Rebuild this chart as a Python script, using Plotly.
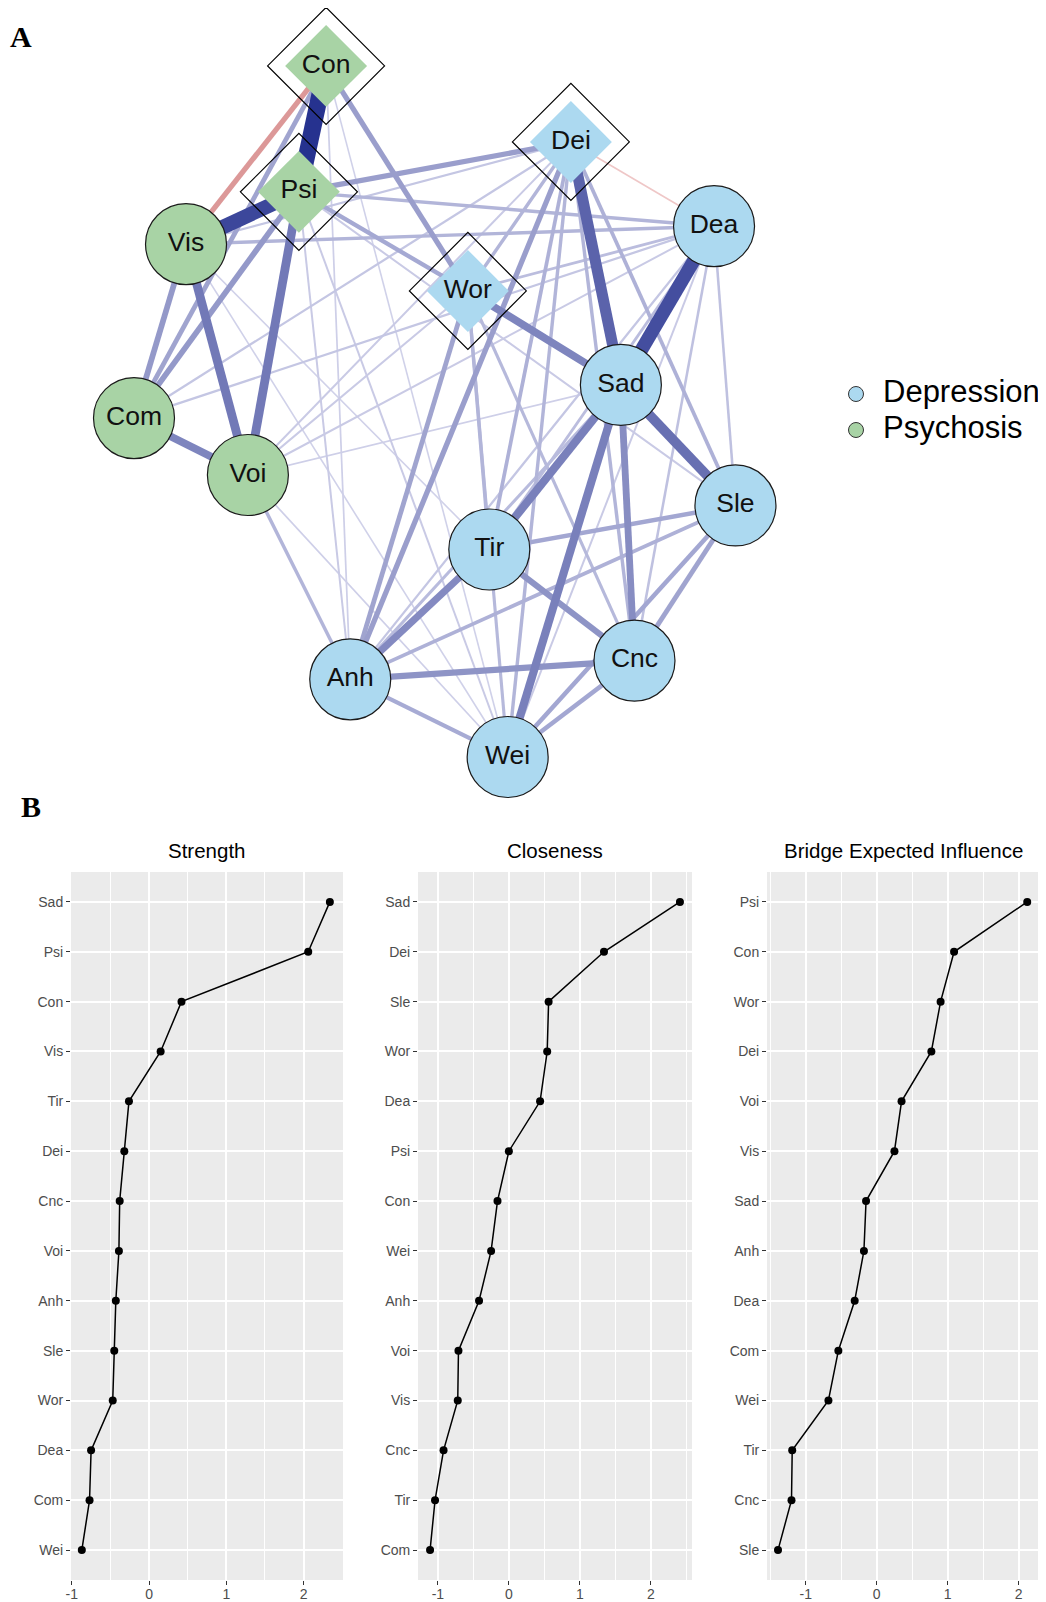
import plotly.graph_objects as go

PAGE_W, PAGE_H = 1046, 1602
OFF = 8  # default page margin around the plot div
W, H = PAGE_W - OFF, PAGE_H - OFF
FONT = "Liberation Sans, Arial, sans-serif"

# ---------------- Panel A: network data ----------------
nodes = ["Con", "Psi", "Vis", "Com", "Voi", "Wor", "Dei", "Dea", "Sad", "Sle", "Tir", "Cnc", "Anh", "Wei"]
node_x = [-0.335, -0.415, -0.747, -0.900, -0.565, 0.082, 0.385, 0.806, 0.532, 0.869, 0.145, 0.572, -0.264, 0.199]
node_y = [0.890, 0.567, 0.433, -0.013, -0.159, 0.313, 0.695, 0.479, 0.072, -0.237, -0.350, -0.635, -0.683, -0.882]
node_group = ["Psychosis"] * 5 + ["Depression"] * 9
bridge_nodes = ["Con", "Psi", "Wor", "Dei"]

edge_from = ["Con", "Vis", "Dea", "Dei", "Sad", "Vis", "Psi", "Sad", "Sad", "Com",
             "Wor", "Anh", "Sad", "Tir", "Anh", "Com", "Com", "Con", "Psi", "Con",
             "Con", "Anh", "Anh", "Sle", "Sle", "Cnc", "Tir", "Anh", "Psi", "Psi",
             "Vis", "Dei", "Dei", "Dei", "Dei", "Wor", "Wor", "Wor", "Wor", "Anh",
             "Anh", "Dea", "Dea", "Dea", "Dea", "Dea", "Dea", "Dea", "Dea", "Vis",
             "Com", "Voi", "Voi", "Voi", "Voi", "Con", "Psi", "Psi", "Con", "Vis",
             "Vis", "Psi", "Dea", "Anh"]
edge_to = ["Psi", "Psi", "Sad", "Sad", "Sle", "Voi", "Voi", "Tir", "Wei", "Voi",
           "Sad", "Tir", "Cnc", "Cnc", "Cnc", "Vis", "Psi", "Wor", "Dei", "Com",
           "Vis", "Dei", "Wor", "Cnc", "Wei", "Wei", "Sle", "Wei", "Wor", "Dea",
           "Dea", "Tir", "Wei", "Cnc", "Sle", "Tir", "Wei", "Cnc", "Dei", "Voi",
           "Sle", "Sle", "Cnc", "Tir", "Wor", "Com", "Dei", "Anh", "Voi", "Dei",
           "Dei", "Dei", "Wor", "Wei", "Sad", "Anh", "Anh", "Wei", "Wei", "Wei",
           "Tir", "Sle", "Wei", "Sad"]
edge_weight = [1.00, 0.85, 0.80, 0.66, 0.58, 0.52, 0.52, 0.48, 0.48, 0.45,
               0.45, 0.42, 0.40, 0.36, 0.36, 0.33, 0.33, 0.30, 0.30, 0.27,
               -0.30, 0.30, 0.27, 0.27, 0.25, 0.25, 0.25, 0.23, 0.24, 0.18,
               0.18, 0.20, 0.18, 0.18, 0.20, 0.18, 0.16, 0.16, 0.18, 0.18,
               0.20, 0.12, 0.12, 0.14, 0.14, 0.10, -0.05, 0.10, 0.08, 0.10,
               0.10, 0.08, 0.08, 0.06, 0.06, 0.06, 0.08, 0.08, 0.05, 0.05,
               0.05, 0.08, 0.08, 0.15]

groups = ["Depression", "Psychosis"]
group_colors = {"Depression": "#acd9f0", "Psychosis": "#a8d3a5"}

# ---------------- Panel B: centrality data ----------------
strength_labels = ["Sad", "Psi", "Con", "Vis", "Tir", "Dei", "Cnc", "Voi", "Anh", "Sle", "Wor", "Dea", "Com", "Wei"]
strength_vals = [2.34, 2.06, 0.42, 0.15, -0.26, -0.32, -0.38, -0.39, -0.43, -0.45, -0.47, -0.75, -0.77, -0.87]
closeness_labels = ["Sad", "Dei", "Sle", "Wor", "Dea", "Psi", "Con", "Wei", "Anh", "Voi", "Vis", "Cnc", "Tir", "Com"]
closeness_vals = [2.41, 1.34, 0.56, 0.54, 0.44, 0.00, -0.16, -0.25, -0.42, -0.71, -0.72, -0.92, -1.04, -1.11]
bei_labels = ["Psi", "Con", "Wor", "Dei", "Voi", "Vis", "Sad", "Anh", "Dea", "Com", "Wei", "Tir", "Cnc", "Sle"]
bei_vals = [2.12, 1.09, 0.90, 0.77, 0.35, 0.25, -0.15, -0.18, -0.31, -0.54, -0.68, -1.19, -1.20, -1.39]
panel_titles = ["Strength", "Closeness", "Bridge Expected Influence"]
x_tick_vals = [-1, 0, 1, 2]
x_tick_text = ["-1", "0", "1", "2"]
x_minor_vals = [-1.5, -0.5, 0.5, 1.5, 2.5]


def px_x(p):
    return (p - OFF) / W


def px_y(p):
    return 1 - (p - OFF) / H


def edge_style(w):
    a = min(abs(w), 1.0)
    t = a ** 0.8
    if w >= 0:
        lo, hi = (226, 226, 243), (38, 50, 143)
    else:
        lo, hi = (245, 215, 215), (180, 50, 50)
    c = [int(lo[i] + (hi[i] - lo[i]) * t) for i in range(3)]
    return "rgb(%d,%d,%d)" % tuple(c), 1 + 16 * a ** 1.1


fig = go.Figure()
idx = {n: i for i, n in enumerate(nodes)}

# edges: weakest first
order = sorted(range(len(edge_weight)), key=lambda k: abs(edge_weight[k]))
for k in order:
    a, b, w = edge_from[k], edge_to[k], edge_weight[k]
    col, wid = edge_style(w)
    fig.add_trace(go.Scatter(
        x=[node_x[idx[a]], node_x[idx[b]]], y=[node_y[idx[a]], node_y[idx[b]]],
        mode="lines", line=dict(color=col, width=wid), hoverinfo="skip",
        showlegend=False, xaxis="x4", yaxis="y4", cliponaxis=False))

bx = [node_x[idx[n]] for n in bridge_nodes]
by = [node_y[idx[n]] for n in bridge_nodes]
# outer bridge diamonds
fig.add_trace(go.Scatter(
    x=bx, y=by, mode="markers",
    marker=dict(symbol="diamond", size=90, color="rgba(0,0,0,0)", line=dict(color="black", width=1.2)),
    hoverinfo="skip", showlegend=False, xaxis="x4", yaxis="y4", cliponaxis=False))

# inner nodes
for shape, sel in (("circle", [n for n in nodes if n not in bridge_nodes]), ("diamond", bridge_nodes)):
    xs = [node_x[idx[n]] for n in sel]
    ys = [node_y[idx[n]] for n in sel]
    cols = [group_colors[node_group[idx[n]]] for n in sel]
    if shape == "circle":
        mk = dict(symbol="circle", size=81, color=cols, line=dict(color="#1a1a1a", width=1.2))
    else:
        mk = dict(symbol="diamond", size=63, color=cols, line=dict(width=0))
    fig.add_trace(go.Scatter(x=xs, y=ys, mode="markers", marker=mk, hoverinfo="skip",
                             showlegend=False, xaxis="x4", yaxis="y4", cliponaxis=False))

fig.add_trace(go.Scatter(
    x=node_x, y=node_y, mode="text", text=nodes, textposition="middle center",
    textfont=dict(size=26.5, color="#111111", family=FONT), hoverinfo="skip",
    showlegend=False, xaxis="x4", yaxis="y4", cliponaxis=False))

# legend (drawn on an overlay axis measured in page pixels)
leg_x, leg_y0, leg_dy = 856, 394, 36
leg_ys = [leg_y0 + i * leg_dy for i in range(len(groups))]
fig.add_trace(go.Scatter(
    x=[leg_x] * len(groups), y=leg_ys, mode="markers",
    marker=dict(symbol="circle", size=15, color=[group_colors[g] for g in groups],
                line=dict(color="#333333", width=1)),
    hoverinfo="skip", showlegend=False, xaxis="x5", yaxis="y5", cliponaxis=False))
fig.add_trace(go.Scatter(
    x=[leg_x + 27] * len(groups), y=leg_ys, mode="text", text=groups, textposition="middle right",
    textfont=dict(size=31, color="black", family=FONT),
    hoverinfo="skip", showlegend=False, xaxis="x5", yaxis="y5", cliponaxis=False))

# ---------------- Panel B ----------------
panel_dom = [(71, 343), (418, 692), (767, 1040)]
panel_rng = [(-1.01, 2.51), (-1.28, 2.58), (-1.545, 2.30)]
panel_data = [(strength_labels, strength_vals), (closeness_labels, closeness_vals), (bei_labels, bei_vals)]
y_top, y_bot = 872, 1580

layout_axes = {}
shapes = []
annotations = []
for i, ((labels, vals), (l, r), rng, title) in enumerate(zip(panel_data, panel_dom, panel_rng, panel_titles)):
    n = i + 1
    xa = "x" if n == 1 else "x%d" % n
    ya = "y" if n == 1 else "y%d" % n
    fig.add_trace(go.Scatter(
        x=vals, y=labels, mode="lines+markers",
        line=dict(color="black", width=1.5), marker=dict(color="black", size=8),
        hoverinfo="skip", showlegend=False, xaxis=xa, yaxis=ya, cliponaxis=False))
    layout_axes["xaxis" if n == 1 else "xaxis%d" % n] = dict(
        domain=[px_x(l), px_x(r)], range=list(rng), anchor=ya,
        tickmode="array", tickvals=x_tick_vals, ticktext=x_tick_text,
        ticks="outside", ticklen=4, tickwidth=1.2, tickcolor="#333333",
        tickfont=dict(size=14, color="#4d4d4d", family=FONT), ticklabelstandoff=-3,
        showgrid=True, gridcolor="white", gridwidth=1.8, zeroline=False, showline=False,
        minor=dict(tickmode="array", tickvals=x_minor_vals, showgrid=True, gridcolor="white",
                   gridwidth=0.9, ticks=""),
        fixedrange=True, automargin=False)
    layout_axes["yaxis" if n == 1 else "yaxis%d" % n] = dict(
        domain=[px_y(y_bot), px_y(y_top)], type="category",
        categoryorder="array", categoryarray=labels[::-1], range=[-0.6, 13.6], anchor=xa,
        ticks="outside", ticklen=4, tickwidth=1.2, tickcolor="#333333",
        tickfont=dict(size=14, color="#4d4d4d", family=FONT),
        showgrid=True, gridcolor="white", gridwidth=1.8, zeroline=False, showline=False,
        fixedrange=True, automargin=False)
    shapes.append(dict(type="rect", xref=xa + " domain", yref=ya + " domain", x0=0, x1=1, y0=0, y1=1,
                       fillcolor="#ebebeb", line=dict(width=0), layer="below"))
    annotations.append(dict(text=title, x=px_x((l + r) / 2), y=px_y(850), xref="paper", yref="paper",
                            xanchor="center", yanchor="middle", showarrow=False,
                            font=dict(size=20.5, color="black", family=FONT)))

annotations.append(dict(text="<b>A</b>", x=px_x(21), y=px_y(36), xref="paper", yref="paper",
                        xanchor="center", yanchor="middle", showarrow=False,
                        font=dict(size=30, color="black", family="Liberation Serif, Times New Roman, serif")))
annotations.append(dict(text="<b>B</b>", x=px_x(31), y=px_y(807), xref="paper", yref="paper",
                        xanchor="center", yanchor="middle", showarrow=False,
                        font=dict(size=30, color="black", family="Liberation Serif, Times New Roman, serif")))

layout_axes["xaxis4"] = dict(domain=[px_x(100), px_x(780)], range=[-1, 1], visible=False,
                             anchor="y4", fixedrange=True)
layout_axes["yaxis4"] = dict(domain=[px_y(803), px_y(23)], range=[-1, 1], visible=False,
                             anchor="x4", fixedrange=True)
layout_axes["xaxis5"] = dict(domain=[0, 1], range=[OFF, OFF + W], visible=False, anchor="y5", fixedrange=True)
layout_axes["yaxis5"] = dict(domain=[0, 1], range=[OFF + H, OFF], visible=False, anchor="x5", fixedrange=True)

fig.update_layout(
    width=W, height=H, margin=dict(l=0, r=0, t=0, b=0, autoexpand=False),
    paper_bgcolor="white", plot_bgcolor="rgba(0,0,0,0)",
    font=dict(family=FONT),
    showlegend=False,
    shapes=shapes, annotations=annotations,
    **layout_axes)

fig.write_html("out.html")
